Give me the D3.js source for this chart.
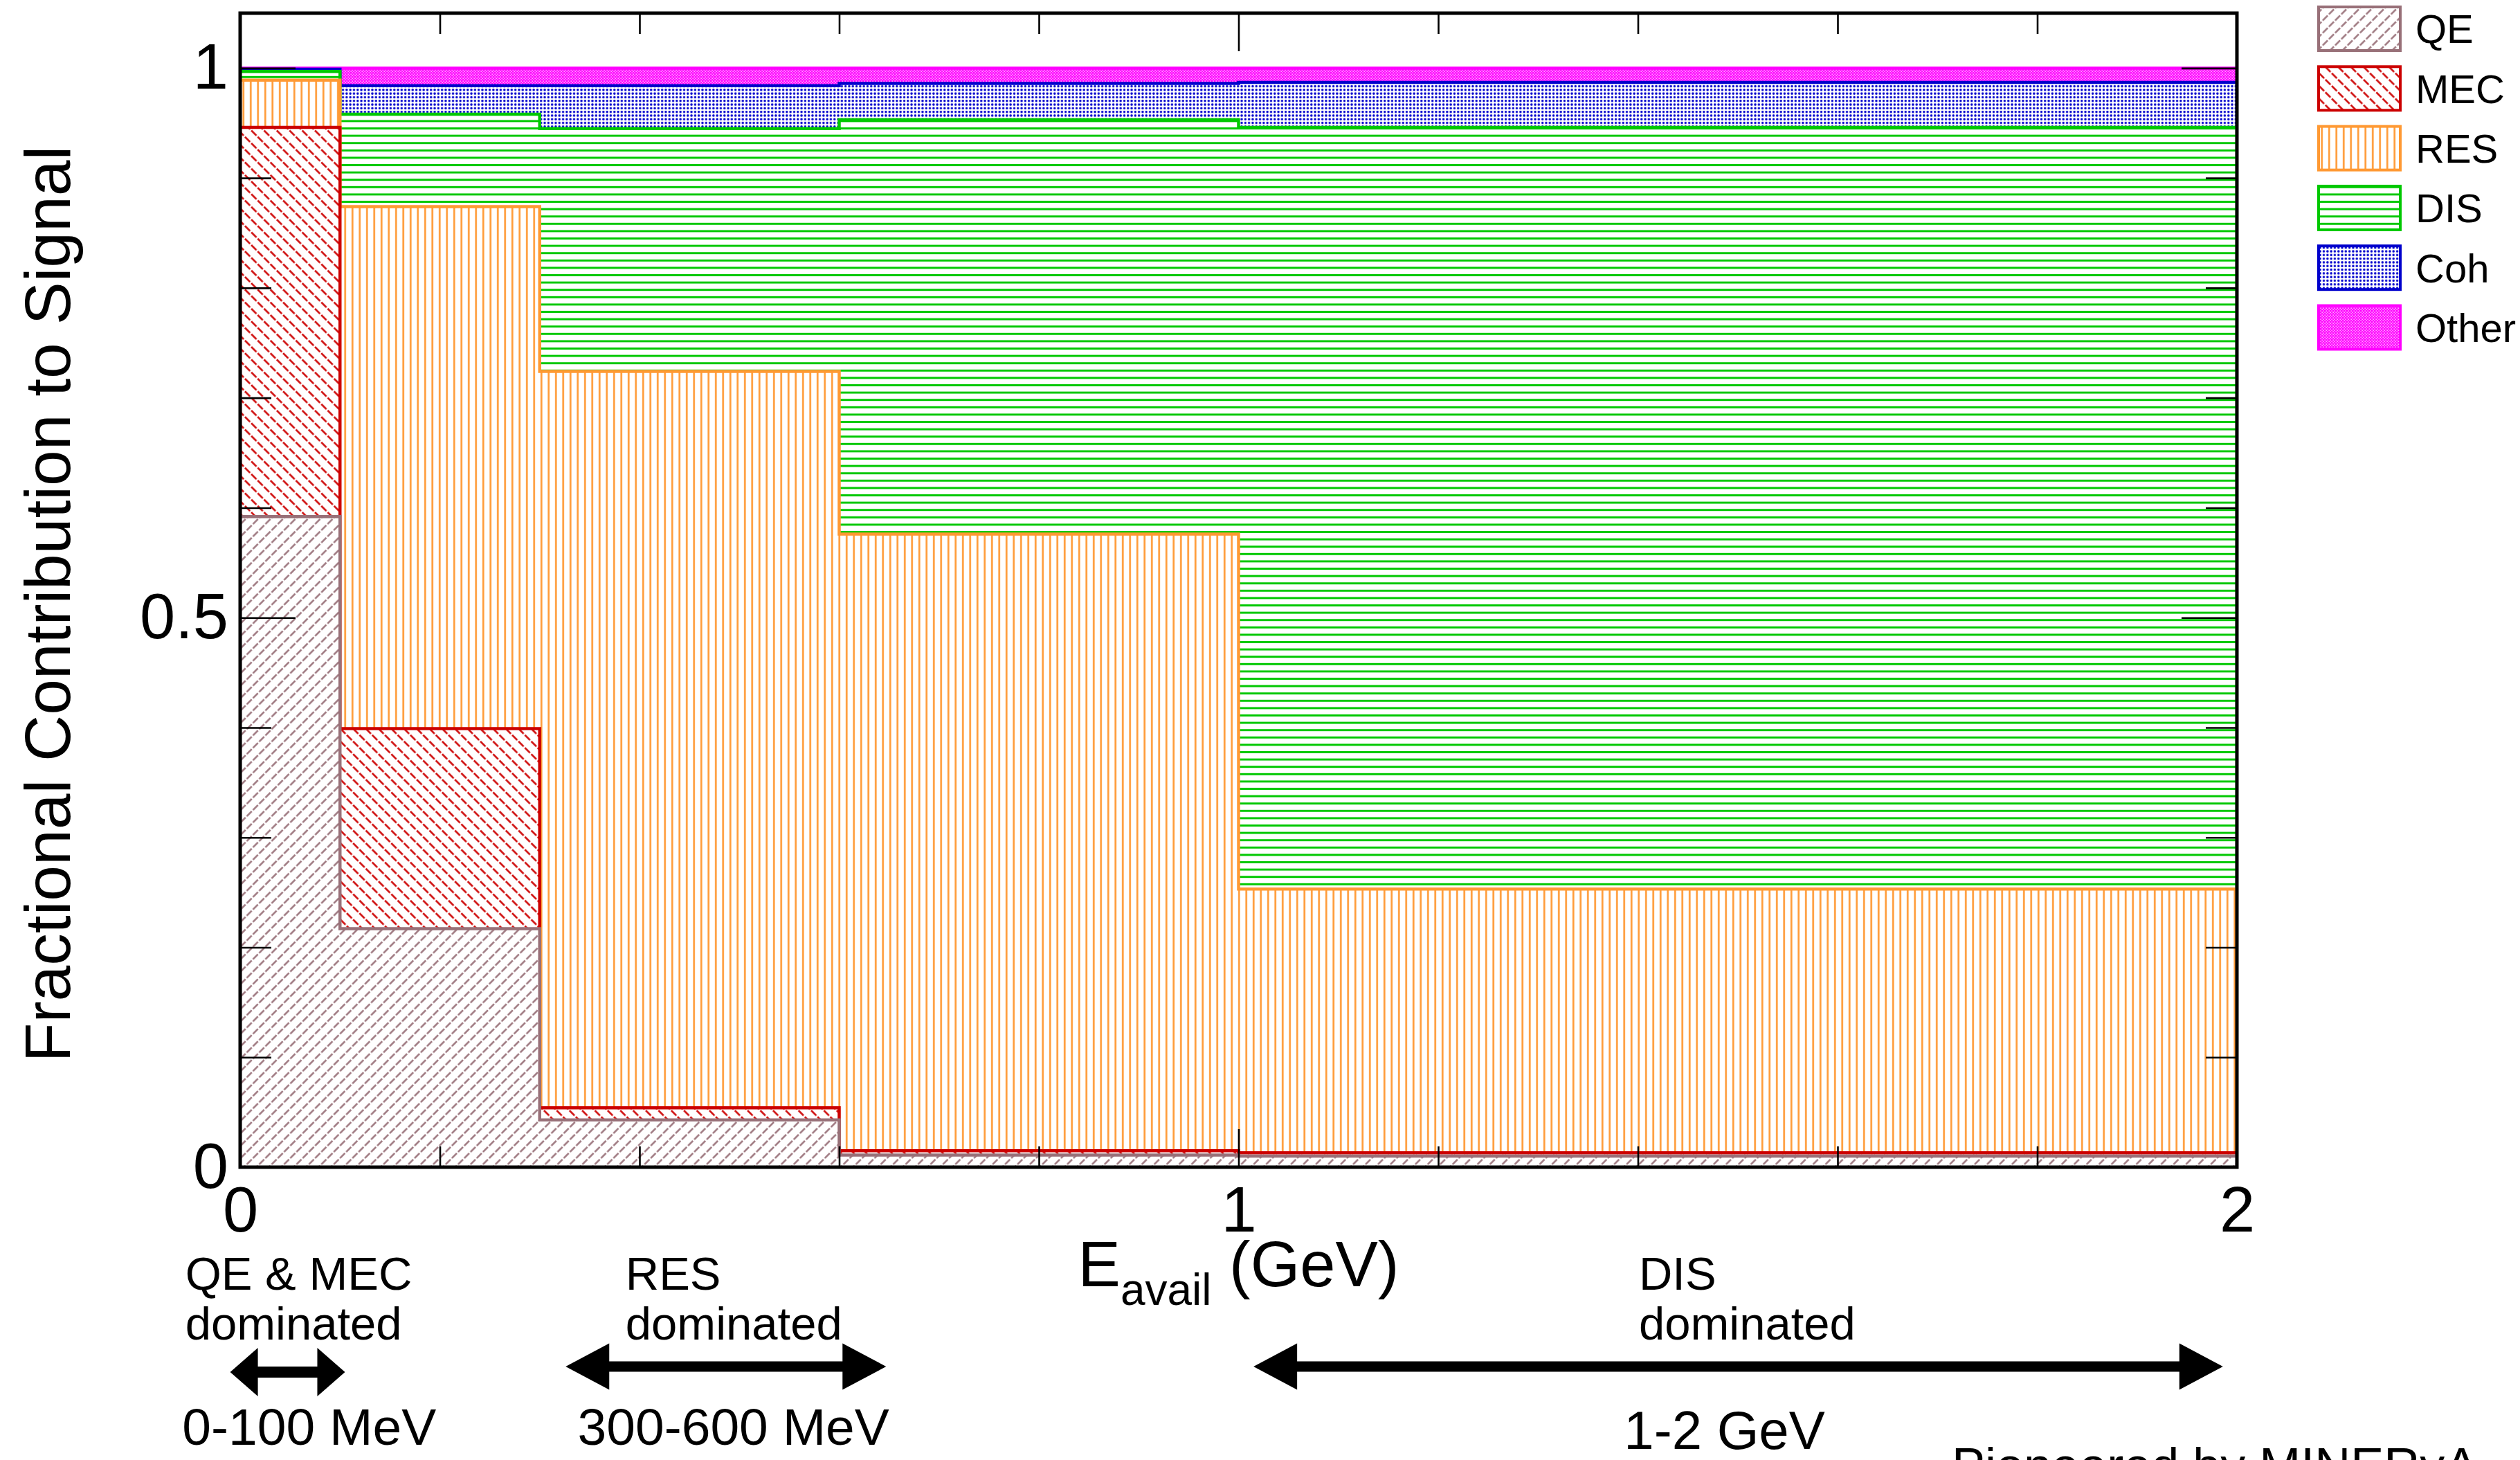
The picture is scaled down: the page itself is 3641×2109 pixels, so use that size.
<!DOCTYPE html>
<html>
<head>
<meta charset="utf-8">
<script src="https://cdn.jsdelivr.net/npm/d3@7"></script>
<style>
  html, body { margin: 0; padding: 0; background: #fff; }
  svg { display: block; }
  text { font-family: "Liberation Sans", Arial, Helvetica, sans-serif; fill: #000; }
</style>
</head>
<body>
<svg id="chart" width="3641" height="2109"></svg>
<script>

// bin edges of E_avail (GeV)
const binEdges = [0, 0.1, 0.3, 0.6, 1.0, 2.0];

// stacked components, bottom to top
const seriesNames = ['QE', 'MEC', 'RES', 'DIS', 'Coh', 'Other'];

// fractional contribution of each component per bin
const qeValues    = [0.592, 0.217, 0.043, 0.011, 0.010];
const mecValues   = [0.354, 0.182, 0.011, 0.004, 0.003];
const resValues   = [0.043, 0.475, 0.670, 0.561, 0.240];
const disValues   = [0.008, 0.084, 0.221, 0.377, 0.693];
const cohValues   = [0.002, 0.026, 0.039, 0.033, 0.041];
const otherValues = [0.001, 0.016, 0.016, 0.014, 0.013];

const xMajorTicks = [0, 1, 2];
const xMinorTicks = [0.2, 0.4, 0.6, 0.8, 1.2, 1.4, 1.6, 1.8];
const yMajorTicks = [0, 0.5, 1];
const yMinorTicks = [0.1, 0.2, 0.3, 0.4, 0.6, 0.7, 0.8, 0.9];

// region annotations below the axis (anchors in GeV)
const regionNotes = [
  { title: ['QE & MEC', 'dominated'], range: '0-100 MeV',   textAt: -0.055, rangeAt: -0.058, arrow: [-0.010, 0.105] },
  { title: ['RES', 'dominated'],      range: '300-600 MeV', textAt: 0.386,  rangeAt: 0.338,  arrow: [0.326, 0.647] },
  { title: ['DIS', 'dominated'],      range: '1-2 GeV',     textAt: 1.401,  rangeAt: 1.386,  arrow: [1.015, 1.986] }
];

const seriesValues = [qeValues, mecValues, resValues, disValues, cohValues, otherValues];

const colors = {
  QE: '#987078',
  MEC: '#cc0000',
  RES: '#ff9933',
  DIS: '#00c800',
  Coh: '#0000cc',
  Other: '#ff00ff'
};

const svg = d3.select('#chart');

const plot = { left: 347, right: 3232, top: 19, bottom: 1686 };

const x = d3.scaleLinear().domain([0, 2]).range([plot.left, plot.right]);
const y = d3.scaleLinear().domain([0, 1.05]).range([plot.bottom, plot.top]);

// ---- fill patterns (ROOT-like hatches) ----
const defs = svg.append('defs');

function hatch(id, color, spacing, angle, width, dash) {
  const p = defs.append('pattern')
    .attr('id', id)
    .attr('patternUnits', 'userSpaceOnUse')
    .attr('width', spacing)
    .attr('height', spacing)
    .attr('patternTransform', `rotate(${angle})`);
  const l = p.append('line')
    .attr('x1', spacing / 2).attr('y1', 0)
    .attr('x2', spacing / 2).attr('y2', spacing)
    .attr('stroke', color)
    .attr('stroke-width', width);
  if (dash) l.attr('stroke-dasharray', dash);
}

hatch('p-QE', colors.QE, 12.7, 45, 2.4, '10.2 2.5');
hatch('p-MEC', colors.MEC, 13.0, -45, 2.5, '10.5 2.5');
hatch('p-RES', colors.RES, 10.5, 0, 2.6, null);
hatch('p-DIS', colors.DIS, 10.6, 90, 3, null);

const coh = defs.append('pattern')
  .attr('id', 'p-Coh')
  .attr('patternUnits', 'userSpaceOnUse')
  .attr('width', 5.3).attr('height', 5.3);
coh.append('circle')
  .attr('cx', 2.65).attr('cy', 2.65).attr('r', 1.7)
  .attr('fill', colors.Coh);

const other = defs.append('pattern')
  .attr('id', 'p-Other')
  .attr('patternUnits', 'userSpaceOnUse')
  .attr('width', 4).attr('height', 4);
other.append('rect').attr('width', 4).attr('height', 4).attr('fill', colors.Other);
other.append('rect').attr('x', 0.5).attr('y', 0.5).attr('width', 1.3).attr('height', 1.3).attr('fill', '#fff');
other.append('rect').attr('x', 2.5).attr('y', 2.5).attr('width', 1.3).attr('height', 1.3).attr('fill', '#fff');

defs.append('clipPath')
  .attr('id', 'plot-clip')
  .append('rect')
  .attr('x', plot.left).attr('y', plot.top)
  .attr('width', plot.right - plot.left)
  .attr('height', plot.bottom - plot.top);

// ---- stacked histogram ----
// cumulative sums, drawn from the top component downwards like THStack
const cumulative = seriesValues.map((vals, k) =>
  vals.map((_, b) => d3.sum(seriesValues.slice(0, k + 1), s => s[b])));

const stepPoints = vals => binEdges.map((e, i) => ({ x: e, v: vals[Math.min(i, vals.length - 1)] }));

const area = d3.area()
  .curve(d3.curveStepAfter)
  .x(d => x(d.x))
  .y0(y(0))
  .y1(d => y(d.v));

const contour = d3.line()
  .curve(d3.curveStepAfter)
  .x(d => x(d.x))
  .y(d => y(d.v));

const histLayer = svg.append('g').attr('clip-path', 'url(#plot-clip)');

for (let k = seriesNames.length - 1; k >= 0; k--) {
  const name = seriesNames[k];
  const pts = stepPoints(cumulative[k]);
  const g = histLayer.append('g').attr('class', 'hist-' + name);

  g.append('path').attr('d', area(pts)).attr('fill', '#fff');
  g.append('path').attr('d', area(pts)).attr('fill', `url(#p-${name})`);

  const outline = [{ x: 0, v: 0 }].concat(pts, [{ x: 2, v: 0 }]);
  g.append('path')
    .attr('d', contour(outline))
    .attr('fill', 'none')
    .attr('stroke', colors[name])
    .attr('stroke-width', 4.5);
}

// ---- axes, ticks inside on all four sides ----
function drawAxis(axis, transform, ticks, size, labels) {
  const g = svg.append('g')
    .attr('transform', transform)
    .call(axis.tickValues(ticks).tickSizeInner(size).tickSizeOuter(0));
  g.select('.domain').remove();
  g.selectAll('.tick line').attr('stroke', '#000').attr('stroke-width', 2.6);
  if (!labels) g.selectAll('.tick text').remove();
  return g;
}

const xb = drawAxis(d3.axisBottom(x).tickPadding(28).tickFormat(d3.format('d')),
  `translate(0,${plot.bottom})`, xMajorTicks, -55, true);
xb.selectAll('.tick text').attr('font-size', 92);
drawAxis(d3.axisBottom(x), `translate(0,${plot.bottom})`, xMinorTicks, -30, false);
drawAxis(d3.axisTop(x), `translate(0,${plot.top})`, xMajorTicks, -55, false);
drawAxis(d3.axisTop(x), `translate(0,${plot.top})`, xMinorTicks, -30, false);

const yl = drawAxis(d3.axisLeft(y).tickPadding(17).tickFormat(d => d === 0.5 ? '0.5' : d3.format('d')(d)),
  `translate(${plot.left},0)`, yMajorTicks, -80, true);
yl.selectAll('.tick text').attr('font-size', 92);
drawAxis(d3.axisLeft(y), `translate(${plot.left},0)`, yMinorTicks, -45, false);
drawAxis(d3.axisRight(y), `translate(${plot.right},0)`, yMajorTicks, -80, false);
drawAxis(d3.axisRight(y), `translate(${plot.right},0)`, yMinorTicks, -45, false);

svg.selectAll('.tick text').attr('font-family', null);

// frame
svg.append('rect')
  .attr('x', plot.left).attr('y', plot.top)
  .attr('width', plot.right - plot.left)
  .attr('height', plot.bottom - plot.top)
  .attr('fill', 'none')
  .attr('stroke', '#000')
  .attr('stroke-width', 5);

// ---- axis titles ----
svg.append('text')
  .attr('transform', `translate(101,${(plot.top + plot.bottom) / 2 + 20}) rotate(-90)`)
  .attr('text-anchor', 'middle')
  .attr('font-size', 93)
  .text('Fractional Contribution to Signal');

const xt = svg.append('text')
  .attr('x', x(1))
  .attr('y', 1858)
  .attr('text-anchor', 'middle')
  .attr('font-size', 92);
xt.append('tspan').text('E');
xt.append('tspan').attr('font-size', 64).attr('dy', 27).text('avail');
xt.append('tspan').attr('dy', -27).text('\u00a0(GeV)');

// ---- legend ----
const legend = svg.append('g').attr('class', 'legend');
seriesNames.forEach((name, i) => {
  const cy = 41.5 + i * 86.3;
  legend.append('rect')
    .attr('x', 3350).attr('y', cy - 31.5)
    .attr('width', 118).attr('height', 63)
    .attr('fill', '#fff');
  legend.append('rect')
    .attr('x', 3350).attr('y', cy - 31.5)
    .attr('width', 118).attr('height', 63)
    .attr('fill', `url(#p-${name})`)
    .attr('stroke', colors[name])
    .attr('stroke-width', 4);
  legend.append('text')
    .attr('x', 3490).attr('y', cy)
    .attr('dy', '0.36em')
    .attr('font-size', 58)
    .text(name);
});

// ---- region annotations ----
function doubleArrow(x1, x2, yc, headLen, headH, thick) {
  const p = d3.path();
  p.moveTo(x1, yc);
  p.lineTo(x1 + headLen, yc - headH / 2);
  p.lineTo(x1 + headLen, yc - thick / 2);
  p.lineTo(x2 - headLen, yc - thick / 2);
  p.lineTo(x2 - headLen, yc - headH / 2);
  p.lineTo(x2, yc);
  p.lineTo(x2 - headLen, yc + headH / 2);
  p.lineTo(x2 - headLen, yc + thick / 2);
  p.lineTo(x1 + headLen, yc + thick / 2);
  p.lineTo(x1 + headLen, yc + headH / 2);
  p.closePath();
  return p.toString();
}

const notes = svg.append('g').attr('class', 'notes');
regionNotes.forEach((n, i) => {
  const small = i === 0;
  notes.append('text')
    .attr('x', x(n.textAt)).attr('y', 1863)
    .attr('font-size', 67)
    .text(n.title[0]);
  notes.append('text')
    .attr('x', x(n.textAt)).attr('y', 1935)
    .attr('font-size', 67)
    .text(n.title[1]);
  notes.append('path')
    .attr('d', doubleArrow(x(n.arrow[0]), x(n.arrow[1]), small ? 1982 : 1974,
      small ? 40 : 63, small ? 70 : 67, small ? 16 : 15))
    .attr('fill', '#000');
  notes.append('text')
    .attr('x', x(n.rangeAt)).attr('y', i === 2 ? 2093 : 2087)
    .attr('font-size', i === 2 ? 78 : 75)
    .text(n.range);
});

svg.append('text')
  .attr('x', 2820).attr('y', 2142)
  .attr('font-size', 72)
  .text('Pioneered by MINERvA');

</script>
</body>
</html>
